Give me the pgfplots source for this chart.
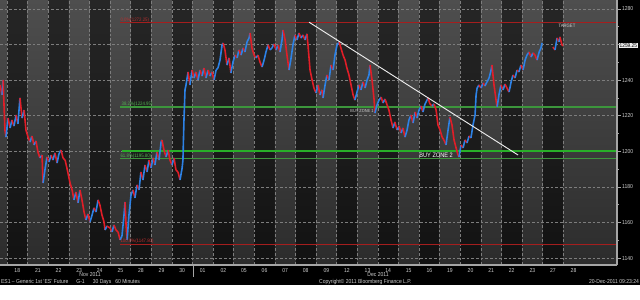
\documentclass[border=0pt]{standalone}
\usepackage{fontspec}
\setmainfont{Liberation Sans}[FakeStretch=0.88]
\usepackage{pgfplots}
\usepackage{pgfplotstable}
\pgfplotsset{compat=1.18}
\definecolor{bandL1}{RGB}{78,78,78}
\definecolor{bandL2}{RGB}{44,44,44}
\definecolor{bandD1}{RGB}{38,38,38}
\definecolor{bandD2}{RGB}{18,18,18}
\definecolor{gridc}{RGB}{125,125,125}
\definecolor{axisc}{RGB}{165,165,165}
\definecolor{lbl}{RGB}{205,205,205}
\definecolor{fibred}{RGB}{165,30,30}
\definecolor{fibgreen}{RGB}{60,150,60}
\definecolor{zonegreen}{RGB}{40,175,40}
\definecolor{fibredtxt}{RGB}{185,45,45}
\definecolor{fibgreentxt}{RGB}{80,180,80}
\newcommand\fa{\fontsize{4.3}{5}\selectfont}
\newcommand\fb{\fontsize{3.7}{4.4}\selectfont}

\pgfplotstableread{
u v c
-0.34 1237.3 1
-0.24 1231.7 0
-0.19 1240.1 1
-0.10 1212.0 1
-0.05 1208.0 0
0.05 1218.7 1
0.15 1213.1 0
0.24 1217.6 1
0.34 1214.2 0
0.44 1220.4 1
0.53 1215.4 0
0.63 1230.0 1
0.73 1218.7 0
0.83 1223.2 1
0.92 1212.0 1
1.02 1208.0 1
1.12 1205.2 0
1.21 1208.6 1
1.31 1203.6 0
1.41 1205.8 1
1.50 1199.6 1
1.60 1196.3 0
1.70 1197.9 1
1.75 1182.2 0
1.84 1189.5 0
1.94 1196.8 1
2.04 1194.0 0
2.14 1197.9 1
2.23 1195.1 0
2.33 1199.1 1
2.43 1193.4 0
2.52 1198.5 0
2.62 1200.7 1
2.72 1196.3 1
2.82 1195.1 1
2.91 1190.6 1
3.06 1182.2 1
3.16 1178.3 1
3.25 1172.7 0
3.35 1177.1 1
3.45 1171.0 0
3.54 1178.3 1
3.64 1172.7 1
3.74 1165.9 1
3.83 1161.4 0
3.93 1164.8 1
4.03 1160.3 0
4.13 1164.2 0
4.22 1168.2 1
4.32 1165.9 0
4.42 1172.7 1
4.51 1169.8 1
4.61 1164.2 1
4.71 1160.3 1
4.76 1155.8 0
4.85 1158.0 1
5.00 1156.9 1
5.10 1154.7 0
5.19 1158.6 1
5.29 1155.8 1
5.39 1154.7 1
5.49 1150.2 0
5.58 1152.4 0
5.68 1164.2 0
5.73 1171.5 1
5.78 1158.6 1
5.83 1150.2 0
5.92 1164.2 0
6.02 1175.5 0
6.12 1178.3 1
6.21 1173.8 0
6.31 1181.1 1
6.41 1178.3 0
6.50 1188.4 1
6.60 1183.9 0
6.70 1192.3 1
6.80 1188.4 0
6.89 1195.1 1
6.99 1190.6 0
7.09 1196.3 1
7.18 1192.3 0
7.28 1199.6 1
7.38 1195.1 0
7.48 1205.2 0
7.52 1206.4 1
7.62 1200.7 1
7.72 1196.8 0
7.82 1200.7 1
7.91 1195.1 1
8.01 1192.3 0
8.11 1196.3 1
8.20 1189.5 1
8.30 1188.4 1
8.40 1183.9 0
8.50 1190.6 0
8.54 1195.1 0
8.59 1217.6 0
8.64 1234.5 0
8.69 1237.3 0
8.79 1244.6 1
8.88 1237.3 0
8.98 1245.7 1
9.08 1241.2 0
9.17 1244.6 1
9.27 1240.1 0
9.37 1245.7 1
9.47 1242.3 0
9.56 1246.8 1
9.66 1241.2 0
9.76 1245.7 1
9.85 1242.3 0
9.95 1244.6 1
10.05 1240.1 0
10.15 1245.7 0
10.24 1246.8 0
10.34 1251.3 0
10.44 1259.8 0
10.49 1260.9 1
10.58 1257.0 1
10.68 1248.5 0
10.78 1252.5 1
10.87 1244.0 0
10.97 1250.2 0
11.07 1254.1 1
11.17 1252.5 0
11.26 1257.0 1
11.36 1254.1 0
11.46 1258.1 1
11.55 1255.8 0
11.65 1261.5 0
11.75 1263.7 0
11.80 1266.5 1
11.89 1258.1 1
11.99 1254.1 1
12.09 1252.5 0
12.18 1254.1 1
12.28 1250.2 1
12.38 1247.4 0
12.48 1251.3 0
12.57 1255.8 0
12.67 1259.8 1
12.77 1257.0 0
12.86 1258.1 0
12.96 1260.3 1
13.06 1257.0 0
13.16 1259.8 1
13.25 1255.8 0
13.35 1262.6 0
13.40 1268.2 1
13.50 1262.6 1
13.59 1254.1 1
13.69 1245.7 0
13.79 1252.5 0
13.88 1259.8 0
13.98 1265.4 1
14.08 1262.6 0
14.17 1266.5 1
14.27 1263.7 0
14.37 1265.4 1
14.47 1262.6 0
14.56 1266.0 1
14.61 1259.8 1
14.71 1245.7 1
14.81 1240.1 1
14.90 1235.6 1
15.00 1232.8 0
15.10 1237.3 1
15.19 1231.7 0
15.29 1234.5 1
15.34 1230.0 0
15.44 1237.3 0
15.53 1242.9 1
15.63 1240.1 0
15.73 1248.5 1
15.83 1245.7 0
15.92 1254.1 0
16.02 1259.8 0
16.12 1261.5 1
16.21 1258.1 1
16.31 1254.1 1
16.41 1251.3 1
16.50 1246.8 1
16.60 1242.9 1
16.70 1237.3 1
16.80 1231.7 1
16.89 1228.8 0
16.99 1233.3 0
17.09 1237.3 1
17.18 1234.5 0
17.28 1239.0 1
17.38 1235.6 0
17.48 1240.1 0
17.57 1242.9 0
17.62 1248.5 1
17.72 1240.1 1
17.82 1228.8 1
17.86 1221.5 0
17.96 1226.1 0
18.06 1228.8 0
18.16 1230.5 1
18.25 1227.2 0
18.35 1229.4 1
18.45 1226.1 1
18.54 1223.2 1
18.64 1217.6 1
18.74 1213.1 0
18.83 1216.5 1
18.93 1212.0 0
19.03 1214.2 1
19.13 1210.3 0
19.22 1213.1 1
19.32 1208.0 0
19.42 1212.0 0
19.51 1217.6 0
19.61 1220.4 1
19.71 1215.9 0
19.81 1222.1 1
19.90 1218.7 0
20.00 1223.2 0
20.10 1225.5 1
20.19 1222.1 0
20.29 1226.6 0
20.39 1228.8 0
20.44 1230.0 1
20.53 1226.6 1
20.63 1225.5 0
20.73 1226.6 1
20.83 1223.2 1
20.92 1214.8 1
21.02 1212.0 1
21.12 1208.0 1
21.21 1206.4 1
21.31 1203.6 0
21.41 1212.0 0
21.50 1219.3 1
21.60 1214.8 1
21.70 1206.4 1
21.80 1201.9 1
21.89 1197.9 1
21.94 1196.8 0
22.04 1203.6 1
22.14 1201.9 0
22.23 1206.4 1
22.33 1204.7 0
22.43 1208.6 1
22.52 1207.5 0
22.62 1214.8 0
22.72 1220.4 0
22.77 1231.7 0
22.82 1235.6 0
22.91 1237.3 1
23.01 1235.6 0
23.11 1238.4 1
23.20 1236.7 0
23.30 1239.0 0
23.40 1241.2 0
23.50 1245.7 0
23.54 1248.5 1
23.64 1237.3 1
23.74 1228.8 1
23.79 1224.9 0
23.88 1231.7 0
23.98 1237.3 1
24.08 1234.5 0
24.17 1237.8 1
24.27 1235.6 1
24.37 1233.3 0
24.47 1239.0 0
24.56 1242.9 1
24.66 1241.2 0
24.76 1245.7 1
24.85 1244.6 0
24.95 1248.5 1
25.05 1245.7 0
25.15 1251.3 0
25.24 1254.1 0
25.34 1255.8 1
25.44 1253.0 0
25.53 1255.3 1
25.63 1254.1 1
25.73 1251.3 0
25.83 1255.8 0
25.92 1258.1 0
25.97 1260.9 0
}\priceA

\pgfplotstableread{
u v c
26.50 1258.6 1
26.60 1257.0 0
26.70 1263.7 1
26.80 1261.5 0
26.84 1264.3 1
26.94 1259.8 1
26.99 1259.25 0
}\priceB

\begin{document}
\begin{tikzpicture}
\path[use as bounding box, fill=white] (0,0) rectangle (480pt,-225pt);
\fill[black] (0,0) rectangle (480pt,-213.75pt);
\begin{axis}[
  at={(0pt,0pt)}, anchor=north west, scale only axis,
  width=462.75pt, height=198.75pt,
  xmin=-0.34, xmax=29.61, ymin=1136.1, ymax=1285.06,
  axis x line*=bottom, axis y line*=right,
  axis line style={draw=axisc, line width=1pt, -},
  axis on top, clip=false,
  xtick={0.5,1.5,...,27.5},
  xticklabels={18,21,22,23,24,25,28,29,30,01,02,05,06,07,08,09,12,13,14,15,16,19,20,21,22,23,27,28},
  x tick style={draw=none},
  xticklabel style={font=\fa, text=lbl, inner sep=0pt, yshift=0.9pt},
  ytick={1140,1160,...,1280},
  yticklabels={1140,1160,1180,1200,1220,1240,,1280},
  minor ytick={1150,1170,...,1270},
  tick align=outside,
  major tick length=3pt, minor tick length=1.6pt,
  y tick style={draw=axisc, line width=0.6pt},
  yticklabel style={font=\fa, text=lbl, inner sep=0.6pt},
  /pgf/number format/1000 sep={},
  /pgf/number format/assume math mode=true,
  colormap={candle}{rgb255(0cm)=(45,130,230); rgb255(1cm)=(225,30,40)},
  point meta min=0, point meta max=1,
]
% background bands
\fill[top color=bandD1, bottom color=bandD2] (axis cs:-0.34,1136.1) rectangle (axis cs:29.61,1285.06);
\fill[top color=bandL1, bottom color=bandL2] (axis cs:-0.34,1136.1) rectangle (axis cs:0,1285.06);
\pgfplotsinvokeforeach{1,3,...,25}{
  \fill[top color=bandL1, bottom color=bandL2] (axis cs:#1,1136.1) rectangle (axis cs:#1+1,1285.06);
}
\fill[top color=bandL1, bottom color=bandL2] (axis cs:27,1136.1) rectangle (axis cs:29.61,1285.06);
% grid
\pgfplotsinvokeforeach{0,...,27}{
  \draw[gridc, line width=0.45pt, dash pattern=on 2pt off 1.5pt] (axis cs:#1,1136.1) -- (axis cs:#1,1285.06);
}
\pgfplotsinvokeforeach{1140,1160,...,1280}{
  \draw[gridc, line width=0.45pt, dash pattern=on 2pt off 1.5pt] (axis cs:-0.34,#1) -- (axis cs:29.61,#1);
}
% Fibonacci levels
\addplot[fibred, line width=0.8pt] coordinates {(5.5,1272.25) (29.61,1272.25)};
\addplot[fibgreen, line width=1.1pt] coordinates {(5.5,1224.95) (29.61,1224.95)};
\addplot[zonegreen, line width=1.3pt] coordinates {(5.6,1200) (29.61,1200)};
\addplot[fibgreen, line width=0.7pt] coordinates {(5.5,1195.80) (29.61,1195.80)};
\addplot[fibred, line width=0.8pt] coordinates {(5.5,1147.80) (29.61,1147.80)};
% price
\addplot[mesh, shader=flat corner, point meta=explicit, line width=1.2pt, line join=bevel] table[x=u, y=v, meta=c] {\priceA};
\addplot[mesh, shader=flat corner, point meta=explicit, line width=1.2pt, line join=bevel] table[x=u, y=v, meta=c] {\priceB};
% trend line
\addplot[white!85!gray, line width=0.7pt] coordinates {(14.66,1272.6) (24.81,1197.9)};
% labels
\node[fibredtxt, font=\fb, anchor=base west, inner sep=0pt] at (axis cs:5.5,1273.0) {0.0\%(1272.25)};
\node[fibgreentxt, font=\fb, anchor=base west, inner sep=0pt] at (axis cs:5.55,1225.7) {38.2\%(1224.95)};
\node[fibgreentxt, font=\fb, anchor=base west, inner sep=0pt] at (axis cs:5.5,1196.5) {61.8\%(1195.80)};
\node[fibredtxt, font=\fb, anchor=base west, inner sep=0pt] at (axis cs:5.5,1148.5) {100.0\%(1147.80)};
\node[lbl, font=\fontsize{3.3}{4}\selectfont, inner sep=0pt] at (axis cs:17.23,1222.5) {BUY ZONE 1};
\node[white, font=\fontsize{4.8}{5.5}\selectfont, inner sep=0pt] at (axis cs:20.83,1197.8) {BUY ZONE 2};
\node[lbl, font=\fontsize{3.6}{4.2}\selectfont, inner sep=0pt, anchor=north] at (axis cs:27.18,1271.6) {TARGET};
\node[fill=white!88!gray, text=black, font=\fontsize{4.1}{5}\selectfont, inner sep=0.4pt, anchor=west] at (axis cs:29.70,1259.25) {1259.25};
\end{axis}
% bottom texts
\draw[axisc, line width=0.6pt] (144.75pt,-198.75pt) -- (144.75pt,-207.75pt);
\node[lbl, font=\fa, inner sep=0pt] at (67.5pt,-206.2pt) {Nov 2011};
\node[lbl, font=\fa, inner sep=0pt] at (283.5pt,-206.2pt) {Dec 2011};
\node[lbl, font=\fa, inner sep=0pt, anchor=west] at (0.6pt,-211.4pt) {ES1 -- Generic 1st 'ES' Future\hspace{6pt}G-1\hspace{6pt}30 Days\hspace{3pt}60 Minutes};
\node[lbl, font=\fa, inner sep=0pt] at (274pt,-211.4pt) {Copyright\textcopyright{} 2011 Bloomberg Finance L.P.};
\node[lbl, font=\fa, inner sep=0pt, anchor=east] at (479.4pt,-211.4pt) {20-Dec-2011 09:23:24};
\end{tikzpicture}
\end{document}
